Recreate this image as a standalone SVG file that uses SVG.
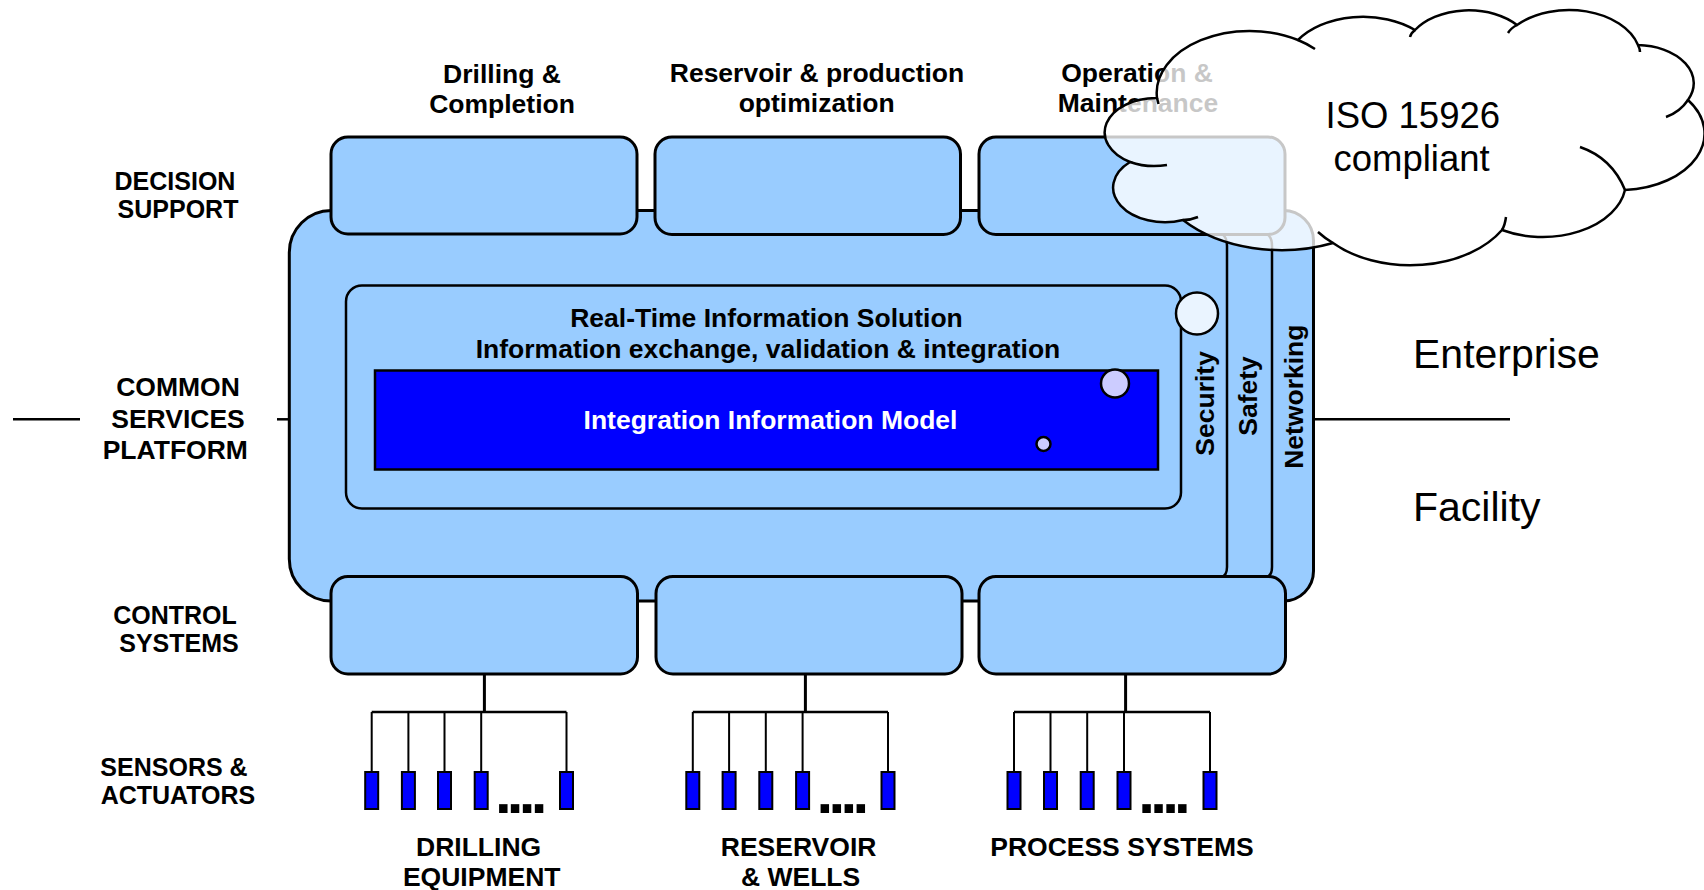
<svg xmlns="http://www.w3.org/2000/svg" width="1704" height="890" viewBox="0 0 1704 890">
<style>
.b{font-family:"Liberation Sans",Arial,sans-serif;font-weight:bold;font-size:26.5px;fill:#000;text-anchor:middle}
.s{font-size:25px}
.r{font-family:"Liberation Sans",Arial,sans-serif;fill:#000}
.box{fill:#99CCFF;stroke:#000;stroke-width:3}
.ln{fill:none;stroke:#000;stroke-width:2.5}
.thin{fill:none;stroke:#000;stroke-width:2}
.sen{fill:#0000FF;stroke:#000;stroke-width:2}
.dots{font-family:"Liberation Sans",Arial,sans-serif;font-weight:bold;font-size:60px;letter-spacing:-4.7px;fill:#000}
.bub{fill:#CCCCFF;stroke:#000;stroke-width:2.5}
</style>
<rect width="1704" height="890" fill="#fff"/>

<g id="connectors">
  <line class="ln" x1="13" y1="419.3" x2="80" y2="419.3"/>
  <line class="ln" x1="277" y1="419.3" x2="290" y2="419.3"/>
  <line class="ln" x1="1313" y1="419.3" x2="1510" y2="419.3"/>
  <line x1="484.4" y1="674" x2="484.4" y2="712" stroke="#000" stroke-width="3"/>
  <line class="ln" x1="371.7" y1="712" x2="566.5" y2="712"/>
  <path class="thin" d="M371.7,712V772M408.4,712V772M444.5,712V772M481.2,712V772M566.5,712V772"/>
  <line x1="805.4" y1="674" x2="805.4" y2="712" stroke="#000" stroke-width="3"/>
  <line class="ln" x1="692.8" y1="712" x2="888" y2="712"/>
  <path class="thin" d="M692.8,712V772M729.1,712V772M765.8,712V772M802.6,712V772M888,712V772"/>
  <line x1="1125.6" y1="674" x2="1125.6" y2="712" stroke="#000" stroke-width="3"/>
  <line class="ln" x1="1014" y1="712" x2="1210" y2="712"/>
  <path class="thin" d="M1014,712V772M1050.5,712V772M1087.2,712V772M1124,712V772M1210,712V772"/>
</g>

<g id="platform">
  <path d="M331.3,210.5 H1283.5 A30,30 0 0 1 1313.5,240.5 V571 A30,30 0 0 1 1283.5,601 H331.3 A42,42 0 0 1 289.3,559 V252.5 A42,42 0 0 1 331.3,210.5 Z" fill="#99CCFF" stroke="#000" stroke-width="3"/>
  <path class="ln" d="M1221,577 Q1227,576 1227,567 V246 Q1227,237 1222,234"/>
  <path class="ln" d="M1266,577 Q1272,576 1272,567 V246 Q1272,237 1267,234"/>
</g>

<g id="realtime">
  <rect x="346" y="285.5" width="835" height="223" rx="16" fill="#99CCFF" stroke="#000" stroke-width="2.5"/>
  <circle cx="1197" cy="313.5" r="21" fill="#EAF4FF" stroke="#000" stroke-width="2.5"/>
  <text class="b" x="766.5" y="327">Real-Time Information Solution</text>
  <text class="b" x="768" y="357.5">Information exchange, validation &amp; integration</text>
</g>

<g id="model">
  <rect x="375" y="370.5" width="783" height="99" fill="#0000FF" stroke="#000" stroke-width="2.5"/>
  <circle class="bub" cx="1115" cy="383.5" r="14"/>
  <circle class="bub" cx="1043.5" cy="444" r="7"/>
  <text class="b" x="770.5" y="429" style="fill:#fff">Integration Information Model</text>
</g>

<g id="security"><text class="b" transform="translate(1213.5,403.4) rotate(-90)">Security</text></g>
<g id="safety"><text class="b" transform="translate(1257,396) rotate(-90)">Safety</text></g>
<g id="networking"><text class="b" transform="translate(1302.5,396.7) rotate(-90)">Networking</text></g>

<g id="ds-drilling">
  <rect class="box" x="331" y="137" width="306" height="97" rx="17"/>
  <text class="b" x="502" y="82.7">Drilling &amp;</text>
  <text class="b" x="502" y="112.7">Completion</text>
</g>
<g id="ds-reservoir">
  <rect class="box" x="655" y="137" width="305.5" height="97.5" rx="17"/>
  <text class="b" x="817" y="82">Reservoir &amp; production</text>
  <text class="b" x="816.7" y="112">optimization</text>
</g>
<g id="ds-operation">
  <rect class="box" x="979" y="137" width="306" height="97.5" rx="17"/>
  <text class="b" x="1137" y="82">Operation &amp;</text>
  <text class="b" x="1138" y="112">Maintenance</text>
</g>

<g id="cs-drilling"><rect class="box" x="331" y="576.5" width="306.5" height="97.5" rx="17"/></g>
<g id="cs-reservoir"><rect class="box" x="656" y="576.5" width="306" height="97.5" rx="17"/></g>
<g id="cs-process"><rect class="box" x="979" y="576.5" width="306.5" height="97.5" rx="17"/></g>

<g id="sensors-drilling">
  <rect class="sen" x="365.2" y="772" width="13" height="37"/>
  <rect class="sen" x="401.9" y="772" width="13" height="37"/>
  <rect class="sen" x="438" y="772" width="13" height="37"/>
  <rect class="sen" x="474.7" y="772" width="13" height="37"/>
  <rect class="sen" x="560" y="772" width="13" height="37"/>
  <text class="dots" x="494.9" y="813">....</text>
  <text class="b" x="478.6" y="856">DRILLING</text>
  <text class="b" x="481.7" y="886">EQUIPMENT</text>
</g>
<g id="sensors-reservoir">
  <rect class="sen" x="686.3" y="772" width="13" height="37"/>
  <rect class="sen" x="722.6" y="772" width="13" height="37"/>
  <rect class="sen" x="759.3" y="772" width="13" height="37"/>
  <rect class="sen" x="796.1" y="772" width="13" height="37"/>
  <rect class="sen" x="881.5" y="772" width="13" height="37"/>
  <text class="dots" x="816.5" y="813">....</text>
  <text class="b" x="798.6" y="856">RESERVOIR</text>
  <text class="b" x="800.6" y="886">&amp; WELLS</text>
</g>
<g id="sensors-process">
  <rect class="sen" x="1007.5" y="772" width="13" height="37"/>
  <rect class="sen" x="1044" y="772" width="13" height="37"/>
  <rect class="sen" x="1080.7" y="772" width="13" height="37"/>
  <rect class="sen" x="1117.5" y="772" width="13" height="37"/>
  <rect class="sen" x="1203.5" y="772" width="13" height="37"/>
  <text class="dots" x="1138.2" y="813">....</text>
  <text class="b" x="1122" y="856">PROCESS SYSTEMS</text>
</g>

<g id="layer-labels">
  <text class="b s" x="175" y="190.2">DECISION</text>
  <text class="b s" x="178" y="218.2">SUPPORT</text>
  <text class="b" x="178" y="396">COMMON</text>
  <text class="b" x="178" y="427.7">SERVICES</text>
  <text class="b" x="175.3" y="459">PLATFORM</text>
  <text class="b s" x="175" y="624.4">CONTROL</text>
  <text class="b s" x="179" y="652.4">SYSTEMS</text>
  <text class="b s" x="174" y="776.4">SENSORS &amp;</text>
  <text class="b s" x="178" y="804.4">ACTUATORS</text>
</g>

<g id="scope">
  <text class="r" x="1413" y="368" font-size="41">Enterprise</text>
  <text class="r" x="1413" y="521" font-size="41">Facility</text>
</g>

<g id="cloud">
  <path d="M1157,98 A93,62 0 0 1 1298,40 A78,52 0 0 1 1415,30 A64,43 0 0 1 1517,25 A71.5,47.7 0 0 1 1638,45 A57.4,38.3 0 0 1 1688,100 A85,56.6 0 0 1 1625,190 A83.4,55.6 0 0 1 1502,230 A106,70.7 0 0 1 1333,243 A129.6,86.4 0 0 1 1183,220 A51.9,34.6 0 0 1 1130,162 A51.6,34.4 0 0 1 1157,98 Z" fill="#fff" fill-opacity="0.78" stroke="#000" stroke-width="2.5"/>
  <path d="M1157,98 L1158.5,104 M1130,162 A51.6,34.4 0 0 0 1167,165 M1183,220 Q1191,220 1198,217 M1333,243 A106,70.7 0 0 1 1318,232 M1502,230 Q1505,225 1506,217 M1625,190 Q1612,158 1580,147 M1688,100 Q1680,112 1666,117 M1638,45 Q1640,49 1640,52 M1517,25 Q1511,28 1508,33 M1415,30 Q1411,33 1410,37 M1298,40 A93,62 0 0 1 1315,49" fill="none" stroke="#000" stroke-width="2.5"/>
  <text class="r" x="1412.8" y="128.3" font-size="36.5" text-anchor="middle">ISO 15926</text>
  <text class="r" x="1411.6" y="170.5" font-size="36.5" text-anchor="middle">compliant</text>
</g>
</svg>
